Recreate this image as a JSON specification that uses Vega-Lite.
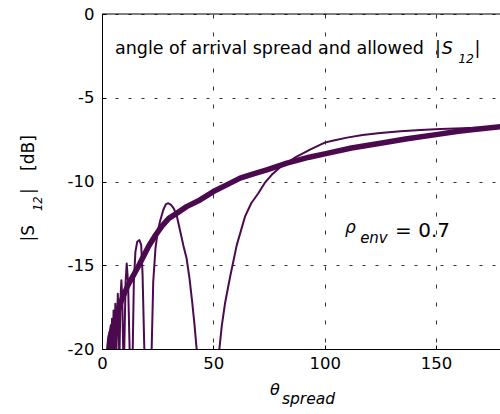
{
  "$schema": "https://vega.github.io/schema/vega-lite/v6.json",
  "width": 398,
  "height": 335,
  "autosize": {"type": "none"},
  "padding": {"left": 102, "top": 14, "right": 0, "bottom": 65},
  "background": "white",
  "config": {
    "view": {"stroke": null},
    "font": "DejaVu Sans",
    "axis": {
      "grid": true,
      "gridColor": "#333333",
      "gridOpacity": 1,
      "gridWidth": 1,
      "ticks": true,
      "tickSize": -4,
      "tickColor": "black",
      "domainColor": "black",
      "domainWidth": 1,
      "labelColor": "black",
      "labelFont": "DejaVu Sans",
      "labelFontSize": 16.5,
      "labelFlush": false,
      "title": null
    }
  },
  "data": {
    "values": [
      {"series": "thick", "x": 2.3, "y": -21},
      {"series": "thick", "x": 3.6, "y": -19.3},
      {"series": "thick", "x": 5, "y": -18.6},
      {"series": "thick", "x": 6.6, "y": -18.0},
      {"series": "thick", "x": 8.5, "y": -17.2},
      {"series": "thick", "x": 10.3, "y": -16.6},
      {"series": "thick", "x": 12, "y": -16.1},
      {"series": "thick", "x": 14.1, "y": -15.6},
      {"series": "thick", "x": 16, "y": -15.15},
      {"series": "thick", "x": 18.5, "y": -14.5},
      {"series": "thick", "x": 21, "y": -13.85},
      {"series": "thick", "x": 23.8, "y": -13.25},
      {"series": "thick", "x": 27, "y": -12.65},
      {"series": "thick", "x": 30, "y": -12.2},
      {"series": "thick", "x": 33.5, "y": -11.9},
      {"series": "thick", "x": 38, "y": -11.5},
      {"series": "thick", "x": 44, "y": -11.1},
      {"series": "thick", "x": 50, "y": -10.6},
      {"series": "thick", "x": 56, "y": -10.2},
      {"series": "thick", "x": 62, "y": -9.8},
      {"series": "thick", "x": 68, "y": -9.55},
      {"series": "thick", "x": 74, "y": -9.3},
      {"series": "thick", "x": 83, "y": -8.9},
      {"series": "thick", "x": 93, "y": -8.55},
      {"series": "thick", "x": 100, "y": -8.35},
      {"series": "thick", "x": 112, "y": -8.0},
      {"series": "thick", "x": 125, "y": -7.72},
      {"series": "thick", "x": 137, "y": -7.45},
      {"series": "thick", "x": 150, "y": -7.2},
      {"series": "thick", "x": 160, "y": -7.0},
      {"series": "thick", "x": 167, "y": -6.89},
      {"series": "thick", "x": 180, "y": -6.72},
      {"series": "thin", "x": 2.4, "y": -21},
      {"series": "thin", "x": 2.9, "y": -19.4},
      {"series": "thin", "x": 3.1, "y": -20},
      {"series": "thin", "x": 3.4, "y": -19.0},
      {"series": "thin", "x": 3.65, "y": -20},
      {"series": "thin", "x": 3.9, "y": -18.6},
      {"series": "thin", "x": 4.15, "y": -20},
      {"series": "thin", "x": 4.5, "y": -18.2},
      {"series": "thin", "x": 4.85, "y": -20},
      {"series": "thin", "x": 5.2, "y": -17.7},
      {"series": "thin", "x": 5.55, "y": -20},
      {"series": "thin", "x": 6.0, "y": -17.3},
      {"series": "thin", "x": 6.5, "y": -20},
      {"series": "thin", "x": 7.1, "y": -16.7},
      {"series": "thin", "x": 7.7, "y": -20},
      {"series": "thin", "x": 7.8, "y": -21},
      {"series": "thin", "x": 7.9, "y": -20},
      {"series": "thin", "x": 8.3, "y": -17},
      {"series": "thin", "x": 8.7, "y": -15.9},
      {"series": "thin", "x": 9.1, "y": -17},
      {"series": "thin", "x": 9.5, "y": -20},
      {"series": "thin", "x": 9.75, "y": -22},
      {"series": "thin", "x": 10.0, "y": -20},
      {"series": "thin", "x": 10.6, "y": -16},
      {"series": "thin", "x": 11.1, "y": -14.9},
      {"series": "thin", "x": 11.7, "y": -16},
      {"series": "thin", "x": 12.4, "y": -20},
      {"series": "thin", "x": 13.1, "y": -24},
      {"series": "thin", "x": 13.8, "y": -20},
      {"series": "thin", "x": 14.3, "y": -16},
      {"series": "thin", "x": 15.0, "y": -14.2},
      {"series": "thin", "x": 15.8, "y": -13.6},
      {"series": "thin", "x": 16.8, "y": -13.5},
      {"series": "thin", "x": 17.6, "y": -13.8},
      {"series": "thin", "x": 18.2, "y": -15.5},
      {"series": "thin", "x": 19.0, "y": -20},
      {"series": "thin", "x": 20.6, "y": -30},
      {"series": "thin", "x": 22.3, "y": -20},
      {"series": "thin", "x": 23, "y": -16},
      {"series": "thin", "x": 24, "y": -14},
      {"series": "thin", "x": 25, "y": -13},
      {"series": "thin", "x": 26, "y": -12.4},
      {"series": "thin", "x": 27.5, "y": -11.7},
      {"series": "thin", "x": 28.7, "y": -11.35},
      {"series": "thin", "x": 29.8, "y": -11.3},
      {"series": "thin", "x": 31, "y": -11.4},
      {"series": "thin", "x": 32.2, "y": -11.6},
      {"series": "thin", "x": 33.5, "y": -12},
      {"series": "thin", "x": 35, "y": -12.9},
      {"series": "thin", "x": 36.5, "y": -13.8},
      {"series": "thin", "x": 38, "y": -14.6},
      {"series": "thin", "x": 39.3, "y": -15.8},
      {"series": "thin", "x": 40.5, "y": -17.2},
      {"series": "thin", "x": 41.5, "y": -18.5},
      {"series": "thin", "x": 42.5, "y": -20},
      {"series": "thin", "x": 47.6, "y": -40},
      {"series": "thin", "x": 52.7, "y": -20},
      {"series": "thin", "x": 53.8, "y": -18.6},
      {"series": "thin", "x": 55.2, "y": -17.3},
      {"series": "thin", "x": 57.5, "y": -15.7},
      {"series": "thin", "x": 60.5, "y": -13.8},
      {"series": "thin", "x": 64.2, "y": -12.1},
      {"series": "thin", "x": 67, "y": -11.3},
      {"series": "thin", "x": 70.2, "y": -10.7},
      {"series": "thin", "x": 73, "y": -10.1},
      {"series": "thin", "x": 76.2, "y": -9.6},
      {"series": "thin", "x": 80, "y": -9.15},
      {"series": "thin", "x": 82.9, "y": -8.9},
      {"series": "thin", "x": 87, "y": -8.55},
      {"series": "thin", "x": 93.4, "y": -8.1},
      {"series": "thin", "x": 100, "y": -7.68},
      {"series": "thin", "x": 104, "y": -7.55},
      {"series": "thin", "x": 110, "y": -7.38},
      {"series": "thin", "x": 117, "y": -7.22},
      {"series": "thin", "x": 125, "y": -7.1},
      {"series": "thin", "x": 134, "y": -7.0},
      {"series": "thin", "x": 143, "y": -6.93},
      {"series": "thin", "x": 152, "y": -6.87},
      {"series": "thin", "x": 162, "y": -6.82},
      {"series": "thin", "x": 172, "y": -6.77},
      {"series": "thin", "x": 180, "y": -6.74}
    ]
  },
  "layer": [
    {
      "transform": [{"filter": "datum.series === 'thick'"}],
      "mark": {"type": "line", "color": "#4a0a4d", "strokeWidth": 5.5, "clip": true, "strokeJoin": "round"},
      "encoding": {
        "x": {"field": "x", "type": "quantitative",
          "scale": {"domain": [0, 178.7], "nice": false, "zero": false},
          "axis": {"values": [0, 50, 100, 150], "gridDash": [4, 14], "labelPadding": 10, "labelExpr": "'' + datum.value"}},
        "y": {"field": "y", "type": "quantitative",
          "scale": {"domain": [-20, 0], "nice": false, "zero": false},
          "axis": {"values": [-20, -15, -10, -5, 0], "gridDash": [3, 10], "labelPadding": 12, "labelExpr": "'' + datum.value"}}
      }
    },
    {
      "transform": [{"filter": "datum.series === 'thin'"}],
      "mark": {"type": "line", "color": "#4a0a4d", "strokeWidth": 2, "clip": true, "strokeJoin": "round"},
      "encoding": {
        "x": {"field": "x", "type": "quantitative"},
        "y": {"field": "y", "type": "quantitative"}
      }
    },
    {
      "data": {"values": [{"t": ""}]},
      "mark": {"type": "rule", "color": "black", "strokeWidth": 1},
      "encoding": {"y": {"datum": 0, "type": "quantitative"}}
    },
    {
      "data": {"values": [{"t": "angle of arrival spread and allowed"}]},
      "mark": {"type": "text", "align": "left", "baseline": "alphabetic", "fontSize": 17.5, "color": "black"},
      "encoding": {"x": {"datum": 5.84, "type": "quantitative"}, "y": {"datum": -2.41, "type": "quantitative"}, "text": {"field": "t"}}
    },
    {
      "data": {"values": [{"t": "|"}]},
      "mark": {"type": "text", "align": "left", "baseline": "alphabetic", "fontSize": 17.5, "color": "black"},
      "encoding": {"x": {"datum": 149.5, "type": "quantitative"}, "y": {"datum": -2.41, "type": "quantitative"}, "text": {"field": "t"}}
    },
    {
      "data": {"values": [{"t": "S"}]},
      "mark": {"type": "text", "align": "left", "baseline": "alphabetic", "fontSize": 17.5, "fontStyle": "italic", "color": "black"},
      "encoding": {"x": {"datum": 152.5, "type": "quantitative"}, "y": {"datum": -2.41, "type": "quantitative"}, "text": {"field": "t"}}
    },
    {
      "data": {"values": [{"t": "12"}]},
      "mark": {"type": "text", "align": "left", "baseline": "alphabetic", "fontSize": 12.5, "fontStyle": "italic", "color": "black"},
      "encoding": {"x": {"datum": 159.9, "type": "quantitative"}, "y": {"datum": -2.92, "type": "quantitative"}, "text": {"field": "t"}}
    },
    {
      "data": {"values": [{"t": "|"}]},
      "mark": {"type": "text", "align": "left", "baseline": "alphabetic", "fontSize": 17.5, "color": "black"},
      "encoding": {"x": {"datum": 167.3, "type": "quantitative"}, "y": {"datum": -2.41, "type": "quantitative"}, "text": {"field": "t"}}
    },
    {
      "data": {"values": [{"t": "ρ"}]},
      "mark": {"type": "text", "align": "left", "baseline": "alphabetic", "fontSize": 17, "fontStyle": "italic", "color": "black"},
      "encoding": {"x": {"datum": 109.1, "type": "quantitative"}, "y": {"datum": -13.07, "type": "quantitative"}, "text": {"field": "t"}}
    },
    {
      "data": {"values": [{"t": "env"}]},
      "mark": {"type": "text", "align": "left", "baseline": "alphabetic", "fontSize": 15, "fontStyle": "italic", "color": "black"},
      "encoding": {"x": {"datum": 115.9, "type": "quantitative"}, "y": {"datum": -13.67, "type": "quantitative"}, "text": {"field": "t"}}
    },
    {
      "data": {"values": [{"t": "= 0.7"}]},
      "mark": {"type": "text", "align": "left", "baseline": "alphabetic", "fontSize": 20, "color": "black"},
      "encoding": {"x": {"datum": 131.6, "type": "quantitative"}, "y": {"datum": -13.31, "type": "quantitative"}, "text": {"field": "t"}}
    },
    {
      "data": {"values": [{"t": "θ"}]},
      "mark": {"type": "text", "align": "left", "baseline": "alphabetic", "fontSize": 16, "fontStyle": "italic", "color": "black"},
      "encoding": {"x": {"datum": 75.4, "type": "quantitative"}, "y": {"datum": -22.75, "type": "quantitative"}, "text": {"field": "t"}}
    },
    {
      "data": {"values": [{"t": "spread"}]},
      "mark": {"type": "text", "align": "left", "baseline": "alphabetic", "fontSize": 15.5, "fontStyle": "italic", "color": "black"},
      "encoding": {"x": {"datum": 80.8, "type": "quantitative"}, "y": {"datum": -23.3, "type": "quantitative"}, "text": {"field": "t"}}
    },
    {
      "data": {"values": [{"t": "|S"}]},
      "mark": {"type": "text", "align": "left", "baseline": "alphabetic", "fontSize": 17, "angle": 270, "color": "black"},
      "encoding": {"x": {"datum": -30.5, "type": "quantitative"}, "y": {"datum": -13.58, "type": "quantitative"}, "text": {"field": "t"}}
    },
    {
      "data": {"values": [{"t": "12"}]},
      "mark": {"type": "text", "align": "left", "baseline": "alphabetic", "fontSize": 11.5, "fontStyle": "italic", "angle": 270, "color": "black"},
      "encoding": {"x": {"datum": -26.9, "type": "quantitative"}, "y": {"datum": -11.76, "type": "quantitative"}, "text": {"field": "t"}}
    },
    {
      "data": {"values": [{"t": "|"}]},
      "mark": {"type": "text", "align": "left", "baseline": "alphabetic", "fontSize": 17, "angle": 270, "color": "black"},
      "encoding": {"x": {"datum": -30.5, "type": "quantitative"}, "y": {"datum": -10.75, "type": "quantitative"}, "text": {"field": "t"}}
    },
    {
      "data": {"values": [{"t": "[dB]"}]},
      "mark": {"type": "text", "align": "left", "baseline": "alphabetic", "fontSize": 17, "angle": 270, "color": "black"},
      "encoding": {"x": {"datum": -30.5, "type": "quantitative"}, "y": {"datum": -9.37, "type": "quantitative"}, "text": {"field": "t"}}
    }
  ]
}
